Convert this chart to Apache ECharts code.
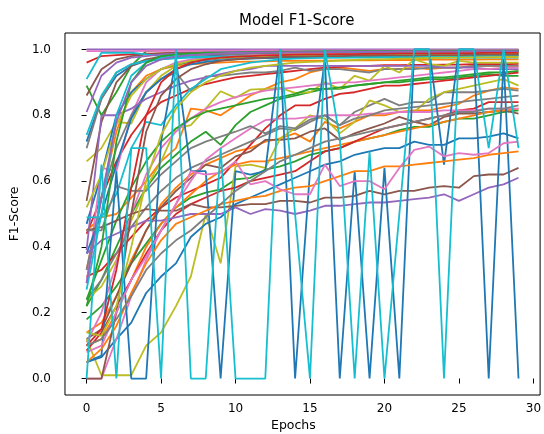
<!DOCTYPE html>
<html>
<head>
    <meta charset="utf-8">
    <title>Model F1-Score</title>
    <script src="https://cdn.jsdelivr.net/npm/echarts@6/dist/echarts.min.js"></script>
    <style>
        html, body { margin: 0; padding: 0; background: #fff; }
    </style>
</head>
<body>
    <div id="main" style="width: 544px;height:434px;"></div>
    <script type="text/javascript">
        var epochs = [0, 1, 2, 3, 4, 5, 6, 7, 8, 9, 10, 11, 12, 13, 14, 15, 16, 17, 18, 19, 20, 21, 22, 23, 24, 25, 26, 27, 28, 29];
        var xTicks = [0, 5, 10, 15, 20, 25, 30];
        var yTicks = [0, 0.2, 0.4, 0.6, 0.8, 1.0];

        // round 1
        var blue1 = [0.72,0.85,0.92,0.95,0.965,0.97,0.975,0.978,0.98,0.982,0.984,0.985,0.986,0.987,0.988,0.988,0.989,0.99,0.99,0.99,0.991,0.991,0.992,0.992,0.992,0.993,0.993,0.993,0.994,0.994];
        var orange1 = [0.33,0.55,0.75,0.87,0.92,0.94,0.95,0.955,0.958,0.96,0.962,0.963,0.964,0.965,0.965,0.966,0.966,0.967,0.967,0.967,0.968,0.968,0.968,0.969,0.969,0.969,0.969,0.97,0.97,0.97];
        var green1 = [0.89,0.80,0.87,0.95,0.995,0.997,0.998,0.998,0.998,0.998,0.999,0.999,0.999,0.999,0.999,0.999,0.999,0.999,0.999,0.999,0.999,0.999,0.999,0.999,0.999,0.999,0.999,0.999,0.999,0.999];
        var red1 = [0.96,0.98,0.983,0.985,0.987,0.988,0.989,0.99,0.99,0.991,0.992,0.992,0.993,0.993,0.993,0.994,0.994,0.994,0.995,0.995,0.995,0.995,0.996,0.996,0.996,0.996,0.996,0.997,0.997,0.997];
        var purple1 = [1.0,1.0,1.0,1.0,1.0,1.0,1.0,1.0,1.0,1.0,1.0,1.0,1.0,1.0,1.0,1.0,1.0,1.0,1.0,1.0,1.0,1.0,1.0,1.0,1.0,1.0,1.0,1.0,1.0,1.0];
        var brown1 = [0.86,0.94,0.97,0.98,0.985,0.988,0.99,0.99,0.991,0.992,0.992,0.993,0.993,0.994,0.994,0.994,0.995,0.995,0.995,0.995,0.996,0.996,0.996,0.996,0.996,0.997,0.997,0.997,0.997,0.997];
        var pink1 = [0.995,0.995,0.995,0.995,0.996,0.996,0.996,0.996,0.996,0.996,0.996,0.997,0.997,0.997,0.997,0.997,0.997,0.997,0.997,0.997,0.998,0.998,0.998,0.998,0.998,0.998,0.998,0.998,0.998,0.998];
        var gray1 = [0.70,0.85,0.93,0.955,0.968,0.975,0.98,0.982,0.984,0.985,0.986,0.987,0.988,0.988,0.989,0.99,0.99,0.99,0.99,0.991,0.991,0.991,0.991,0.992,0.992,0.992,0.992,0.992,0.993,0.993];
        var olive1 = [0.66,0.70,0.78,0.775,0.87,0.92,0.95,0.965,0.972,0.976,0.979,0.981,0.983,0.984,0.985,0.986,0.986,0.987,0.987,0.988,0.988,0.988,0.989,0.989,0.989,0.99,0.99,0.99,0.99,0.99];
        var cyan1 = [0.91,0.99,0.99,0.99,0.985,0.98,0.978,0.977,0.976,0.975,0.975,0.975,0.975,0.975,0.975,0.975,0.975,0.975,0.975,0.975,0.975,0.975,0.975,0.975,0.975,0.975,0.975,0.975,0.975,0.975];

        // round 2
        var blue2 = [0.47,0.62,0.80,0.87,0.91,0.94,0.955,0.962,0.968,0.972,0.975,0.977,0.978,0.98,0.98,0.981,0.982,0.982,0.983,0.983,0.984,0.984,0.985,0.985,0.985,0.986,0.986,0.986,0.987,0.987];
        var orange2 = [0.45,0.49,0.50,0.55,0.60,0.66,0.70,0.82,0.815,0.80,0.83,0.86,0.88,0.90,0.91,0.93,0.94,0.945,0.94,0.935,0.94,0.94,0.945,0.94,0.945,0.945,0.95,0.95,0.95,0.95];
        var green2 = [0.22,0.30,0.40,0.50,0.58,0.64,0.68,0.72,0.75,0.71,0.77,0.81,0.83,0.85,0.86,0.87,0.88,0.88,0.89,0.895,0.90,0.90,0.905,0.91,0.91,0.915,0.92,0.925,0.92,0.92];
        var red2 = [0.44,0.55,0.66,0.74,0.80,0.84,0.86,0.88,0.895,0.905,0.915,0.92,0.925,0.93,0.935,0.94,0.945,0.947,0.95,0.95,0.952,0.952,0.953,0.953,0.954,0.954,0.955,0.955,0.955,0.956];
        var purple2 = [0.81,0.92,0.96,0.975,0.98,0.985,0.987,0.988,0.99,0.99,0.99,0.991,0.991,0.992,0.992,0.992,0.993,0.993,0.993,0.993,0.994,0.994,0.994,0.994,0.994,0.995,0.995,0.995,0.995,0.995];
        var brown2 = [0.54,0.78,0.90,0.95,0.97,0.978,0.982,0.985,0.987,0.988,0.989,0.99,0.99,0.991,0.991,0.992,0.992,0.992,0.993,0.993,0.993,0.993,0.994,0.994,0.994,0.994,0.994,0.995,0.995,0.995];
        var pink2 = [0.29,0.64,0.63,0.80,0.90,0.94,0.96,0.97,0.975,0.978,0.98,0.982,0.983,0.984,0.985,0.985,0.986,0.986,0.987,0.987,0.987,0.988,0.988,0.988,0.988,0.989,0.989,0.989,0.989,0.99];
        var gray2 = [0.33,0.55,0.70,0.80,0.87,0.91,0.93,0.873,0.918,0.92,0.925,0.93,0.93,0.935,0.945,0.935,0.94,0.94,0.935,0.93,0.94,0.94,0.94,0.945,0.945,0.945,0.95,0.95,0.95,0.95];
        var olive2 = [0.24,0.28,0.36,0.48,0.58,0.66,0.76,0.77,0.82,0.873,0.853,0.878,0.88,0.883,0.868,0.87,0.90,0.88,0.92,0.905,0.95,0.93,0.97,0.955,0.95,0.965,0.96,0.96,0.96,0.96];
        var cyan2 = [0.74,0.86,0.93,0.955,0.965,0.97,0.973,0.975,0.977,0.978,0.979,0.98,0.98,0.981,0.981,0.982,0.982,0.982,0.983,0.983,0.983,0.983,0.984,0.984,0.984,0.984,0.984,0.985,0.985,0.985];

        // round 3
        var blue3 = [0.38,0.50,0.65,0.79,0.87,0.91,0.94,0.955,0.962,0.967,0.97,0.972,0.974,0.975,0.976,0.977,0.978,0.978,0.979,0.98,0.98,0.98,0.981,0.981,0.981,0.982,0.982,0.982,0.982,0.983];
        var orange3 = [0.14,0.17,0.25,0.36,0.45,0.53,0.58,0.62,0.65,0.67,0.69,0.70,0.72,0.73,0.745,0.72,0.78,0.76,0.78,0.80,0.80,0.81,0.815,0.815,0.825,0.835,0.86,0.875,0.885,0.88];
        var green3 = [0.18,0.22,0.28,0.35,0.41,0.47,0.52,0.55,0.565,0.575,0.605,0.61,0.635,0.645,0.66,0.68,0.69,0.70,0.72,0.73,0.74,0.755,0.765,0.765,0.78,0.79,0.79,0.80,0.81,0.815];
        var red3 = [0.31,0.33,0.38,0.43,0.48,0.52,0.55,0.57,0.59,0.61,0.66,0.71,0.76,0.80,0.83,0.83,0.85,0.865,0.87,0.88,0.89,0.89,0.895,0.90,0.905,0.91,0.915,0.92,0.925,0.93];
        var purple3 = [0.39,0.80,0.80,0.82,0.85,0.87,0.89,0.905,0.915,0.925,0.935,0.94,0.95,0.95,0.95,0.95,0.95,0.95,0.95,0.95,0.95,0.95,0.95,0.95,0.945,0.945,0.945,0.94,0.94,0.94];
        var brown3 = [0.12,0.15,0.25,0.35,0.45,0.52,0.57,0.61,0.65,0.64,0.675,0.69,0.725,0.725,0.73,0.75,0.76,0.725,0.745,0.76,0.775,0.795,0.78,0.77,0.795,0.805,0.805,0.81,0.815,0.805];
        var pink3 = [0.11,0.20,0.35,0.50,0.62,0.70,0.75,0.79,0.82,0.84,0.855,0.865,0.875,0.88,0.885,0.89,0.895,0.90,0.90,0.905,0.91,0.915,0.92,0.925,0.93,0.935,0.94,0.94,0.945,0.945];
        var gray3 = [0.24,0.30,0.38,0.46,0.52,0.57,0.61,0.64,0.66,0.68,0.70,0.72,0.74,0.76,0.755,0.78,0.80,0.77,0.81,0.83,0.85,0.83,0.84,0.84,0.87,0.87,0.87,0.875,0.88,0.875];
        var olive3 = [0.12,0.01,0.01,0.01,0.10,0.14,0.22,0.31,0.50,0.35,0.645,0.65,0.64,0.73,0.76,0.80,0.79,0.745,0.78,0.845,0.83,0.81,0.81,0.85,0.87,0.88,0.89,0.90,0.91,0.89];
        var cyan3 = [0.49,0.49,0.56,0.70,0.78,0.77,0.83,0.88,0.91,0.94,0.95,0.96,0.965,0.97,0.972,0.974,0.975,0.976,0.977,0.978,0.978,0.979,0.979,0.98,0.98,0.98,0.98,0.981,0.981,0.981];

        // round 4
        var blue4 = [0.05,0.065,0.12,0.17,0.26,0.31,0.35,0.43,0.47,0.49,0.53,0.55,0.57,0.59,0.61,0.63,0.65,0.66,0.68,0.69,0.70,0.70,0.72,0.71,0.71,0.73,0.73,0.735,0.745,0.73];
        var orange4 = [0.10,0.12,0.20,0.30,0.40,0.47,0.52,0.56,0.60,0.63,0.65,0.66,0.66,0.67,0.68,0.69,0.70,0.71,0.72,0.73,0.74,0.75,0.76,0.77,0.78,0.79,0.80,0.81,0.815,0.82];
        var green4 = [0.24,0.36,0.48,0.58,0.66,0.72,0.76,0.79,0.81,0.82,0.83,0.84,0.85,0.855,0.865,0.88,0.88,0.885,0.89,0.895,0.90,0.905,0.91,0.915,0.915,0.92,0.925,0.93,0.93,0.935];
        var red4 = [0.085,0.14,0.22,0.30,0.38,0.45,0.50,0.53,0.55,0.57,0.58,0.60,0.61,0.62,0.63,0.66,0.69,0.70,0.72,0.74,0.76,0.77,0.78,0.79,0.80,0.815,0.82,0.84,0.84,0.84];
        var purple4 = [0.38,0.42,0.44,0.46,0.48,0.48,0.49,0.50,0.50,0.50,0.52,0.50,0.515,0.51,0.50,0.51,0.525,0.525,0.53,0.535,0.535,0.54,0.545,0.55,0.56,0.54,0.56,0.58,0.59,0.61];
        var brown4 = [0.45,0.46,0.48,0.50,0.515,0.51,0.51,0.53,0.52,0.52,0.525,0.53,0.53,0.54,0.54,0.535,0.55,0.55,0.555,0.57,0.56,0.57,0.57,0.58,0.585,0.58,0.615,0.62,0.62,0.64];
        var pink4 = [0.0,0.0,0.12,0.25,0.36,0.45,0.53,0.60,0.665,0.70,0.73,0.76,0.785,0.79,0.79,0.795,0.80,0.80,0.80,0.805,0.805,0.81,0.81,0.81,0.815,0.815,0.815,0.82,0.82,0.82];
        var gray4 = [0.45,0.45,0.585,0.57,0.57,0.62,0.66,0.70,0.72,0.735,0.75,0.767,0.745,0.767,0.76,0.787,0.80,0.77,0.79,0.80,0.815,0.82,0.825,0.83,0.835,0.84,0.845,0.85,0.855,0.86];
        var olive4 = [0.52,0.62,0.77,0.86,0.91,0.94,0.955,0.965,0.97,0.974,0.977,0.979,0.98,0.981,0.982,0.983,0.983,0.984,0.984,0.985,0.985,0.985,0.986,0.986,0.986,0.986,0.987,0.987,0.987,0.987];
        var cyan4 = [0.27,0.50,0.80,0.92,0.96,0.975,0.982,0.986,0.988,0.99,0.99,0.991,0.991,0.992,0.992,0.992,0.993,0.993,0.993,0.993,0.993,0.994,0.994,0.994,0.994,0.994,0.994,0.995,0.995,0.995];

        // round 5
        var blue5 = [0.05,0.07,0.63,0.0,0.0,0.72,0.97,0.63,0.63,0.0,0.63,0.62,0.63,1.0,0.0,0.63,0.97,0.0,0.63,0.0,0.64,0.0,1.0,1.0,0.65,1.0,1.0,0.0,0.97,0.0];
        var orange5 = [0.05,0.09,0.16,0.26,0.35,0.42,0.47,0.49,0.51,0.53,0.54,0.55,0.555,0.57,0.58,0.585,0.60,0.615,0.63,0.63,0.645,0.645,0.65,0.655,0.66,0.665,0.67,0.68,0.685,0.69];
        var green5 = [0.22,0.40,0.72,0.90,0.96,0.98,0.985,0.988,0.99,0.99,0.991,0.992,0.992,0.993,0.993,0.994,0.994,0.994,0.995,0.995,0.995,0.995,0.995,0.996,0.996,0.996,0.996,0.996,0.996,0.996];
        var red5 = [0.10,0.15,0.33,0.58,0.80,0.90,0.94,0.96,0.97,0.975,0.978,0.98,0.982,0.983,0.984,0.985,0.985,0.986,0.986,0.987,0.987,0.988,0.988,0.988,0.989,0.989,0.989,0.99,0.99,0.99];
        var purple5 = [0.29,0.55,0.78,0.90,0.95,0.97,0.978,0.983,0.986,0.988,0.99,0.99,0.991,0.991,0.992,0.992,0.992,0.993,0.993,0.993,0.993,0.994,0.994,0.994,0.994,0.994,0.995,0.995,0.995,0.995];
        var brown5 = [0.0,0.0,0.20,0.50,0.75,0.86,0.91,0.94,0.955,0.965,0.97,0.973,0.975,0.977,0.978,0.979,0.98,0.98,0.981,0.981,0.982,0.982,0.982,0.983,0.983,0.983,0.984,0.984,0.984,0.984];
        var pink5 = [0.08,0.10,0.20,0.30,0.37,0.45,0.53,0.63,0.62,0.625,0.66,0.59,0.60,0.575,0.56,0.56,0.65,0.585,0.60,0.60,0.575,0.64,0.695,0.705,0.675,0.685,0.68,0.685,0.715,0.72];
        var gray5 = [0.10,0.12,0.18,0.25,0.33,0.38,0.42,0.45,0.49,0.53,0.57,0.60,0.63,0.66,0.68,0.70,0.72,0.73,0.74,0.75,0.76,0.77,0.78,0.79,0.80,0.81,0.81,0.82,0.82,0.83];
        var olive5 = [0.14,0.13,0.22,0.40,0.60,0.74,0.82,0.87,0.90,0.92,0.935,0.945,0.95,0.955,0.96,0.962,0.964,0.966,0.968,0.97,0.97,0.972,0.973,0.974,0.975,0.975,0.976,0.976,0.977,0.977];
        var cyan5 = [0.0,0.65,0.0,0.7,0.7,0.0,1.0,0.0,0.0,0.7,0.0,0.0,0.0,1.0,0.5,0.0,1.0,0.73,0.0,0.69,0.0,0.5,1.0,1.0,0.0,1.0,1.0,0.70,1.0,0.70];

        var allRuns = [
            blue1, orange1, green1, red1, purple1, brown1, pink1, gray1, olive1, cyan1,
            blue2, orange2, green2, red2, purple2, brown2, pink2, gray2, olive2, cyan2,
            blue3, orange3, green3, red3, purple3, brown3, pink3, gray3, olive3, cyan3,
            blue4, orange4, green4, red4, purple4, brown4, pink4, gray4, olive4, cyan4,
            blue5, orange5, green5, red5, purple5, brown5, pink5, gray5, olive5, cyan5
        ];

        var myChart = echarts.init(document.getElementById('main'));

        var series = allRuns.map(function (vals, i) {
            return {
                type: 'line',
                showSymbol: false,
                symbol: 'none',
                lineStyle: { width: 1.8 },
                data: epochs.map(function (e, j) { return [e, vals[j]]; })
            };
        });

        var labelFont = 'DejaVu Sans';

        var option = {
            animation: false,
            backgroundColor: '#fff',
            color: ['#1f77b4', '#ff7f0e', '#2ca02c', '#d62728', '#9467bd', '#8c564b', '#e377c2', '#7f7f7f', '#bcbd22', '#17becf'],
            title: {
                text: 'Model F1-Score',
                left: 234,
                top: 9,
                textStyle: { color: '#000', fontFamily: labelFont, fontSize: 15, fontWeight: 'normal' }
            },
            grid: {
                left: 63, top: 33, width: 485, height: 362,
                show: true, borderColor: '#000', borderWidth: 1, backgroundColor: 'transparent'
            },
            graphic: [{
                type: 'text',
                left: 271,
                top: 419,
                style: { text: 'Epochs', fill: '#000', font: '12.5px "DejaVu Sans"' }
            }],
            xAxis: {
                type: 'value',
                min: -1.45,
                max: 30.45,
                splitLine: { show: false },
                axisLine: { show: false },
                axisTick: { show: true, length: 5, customValues: xTicks, lineStyle: { color: '#000' } },
                axisLabel: {
                    customValues: xTicks, margin: 8, color: '#000',
                    fontFamily: labelFont, fontSize: 12
                }
            },
            yAxis: {
                type: 'value',
                min: -0.05,
                max: 1.05,
                name: 'F1-Score',
                nameLocation: 'middle',
                nameGap: 40,
                nameRotate: 90,
                nameTextStyle: { color: '#000', fontFamily: labelFont, fontSize: 12.5 },
                splitLine: { show: false },
                axisLine: { show: false },
                axisTick: { show: true, length: 5, customValues: yTicks, lineStyle: { color: '#000' } },
                axisLabel: {
                    customValues: yTicks, margin: 14, color: '#000',
                    fontFamily: labelFont, fontSize: 12,
                    formatter: function (v) { return v.toFixed(1); }
                }
            },
            series: series
        };

        myChart.setOption(option);
    </script>
</body>
</html>
